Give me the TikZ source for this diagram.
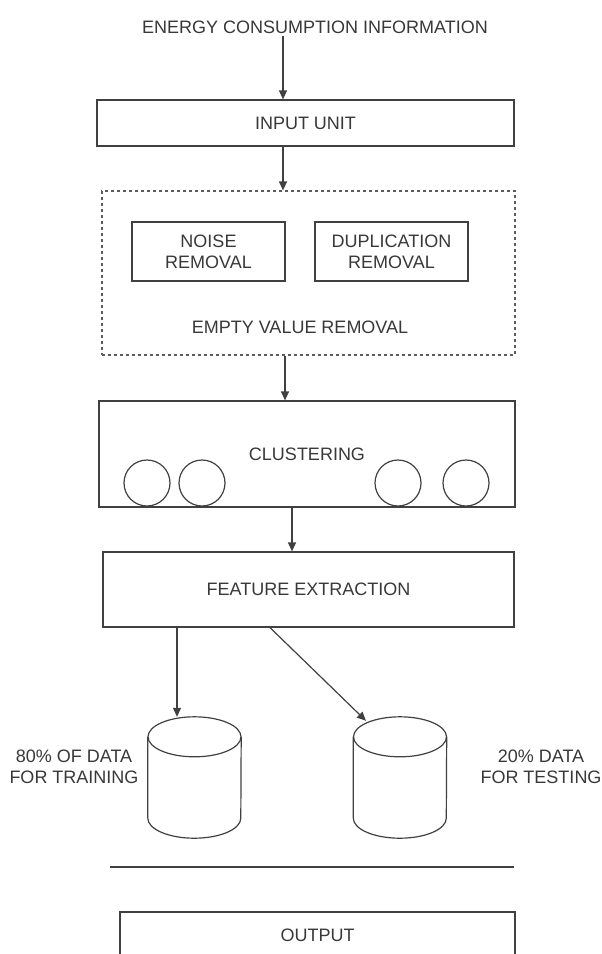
\documentclass[tikz,border=0pt]{standalone}
\usepackage{fontspec}
\setmainfont{Liberation Sans}
\usetikzlibrary{arrows.meta}
\definecolor{fcline}{rgb}{0.25,0.25,0.25}
\definecolor{fctext}{rgb}{0.22,0.22,0.22}
\tikzstyle{fcbox}=[rectangle, draw=fcline, line width=1.2pt, text=fctext, align=center, inner sep=0pt]
\tikzstyle{fcgroup}=[rectangle, draw=fcline!85, line width=1.2pt, dash pattern=on 3pt off 3pt, inner sep=0pt]
\tikzstyle{fclabel}=[text=fctext, align=center, inner sep=2pt]
\tikzstyle{fcdata}=[rectangle, minimum width=93pt, minimum height=121pt, inner sep=0pt]
\tikzstyle{fcball}=[circle, draw=fcline, line width=1.2pt, minimum size=46pt, inner sep=0pt]
\tikzstyle{fcrule}=[draw=fcline, line width=1.2pt]
\tikzstyle{flow}=[draw=fcline, line width=1.2pt, -{Triangle[length=9pt,width=8pt]}]
\newcommand{\fcbox}[5]{
	\node[fcbox, minimum width=#4, minimum height=#5] (#1) at (#2) {#3};}
\newcommand{\fcball}[2]{
	\node[fcball] (#1) at (#2) {};}
\newcommand{\fcdata}[2]{
	\node[fcdata] (#1) at (#2) {};
	\draw[fcrule] ([yshift=-20pt]#1.north) ellipse [x radius=46.5pt, y radius=20pt];
	\draw[fcrule] ([yshift=-20pt]#1.north west) -- ([yshift=20pt]#1.south west)
		arc [start angle=180, end angle=360, x radius=46.5pt, y radius=20pt]
		-- ([yshift=-20pt]#1.north east);}

\begin{document}
\begin{tikzpicture}[x=1pt, y=-1pt, font=\fontsize{18}{21}\selectfont]
	\clip (0,0) rectangle (602,954);
	\node[fclabel] (title) at (315,27) {ENERGY CONSUMPTION INFORMATION};
	\fcbox{inp}{305.5,123}{INPUT UNIT}{417pt}{46pt}
	
	\node[fcgroup, minimum width=413pt, minimum height=164pt] (clean) at (308.5,273) {};
	\fcbox{noise}{208.5,251.5}{NOISE\\REMOVAL}{153pt}{59pt}
	\fcbox{dup}{391.5,251.5}{DUPLICATION\\REMOVAL}{153pt}{59pt}
	\node[fclabel] (empty) at (300,327) {EMPTY VALUE REMOVAL};
	
	\fcbox{clus}{307,454}{CLUSTERING}{416pt}{106pt}
	\fcball{c1}{147,483}
	\fcball{c2}{202,483}
	\fcball{c3}{398,483}
	\fcball{c4}{466,483}
	
	\fcbox{feat}{308.5,589.5}{FEATURE EXTRACTION}{411pt}{75pt}
	
	\fcdata{train}{194.5,777.5}
	\fcdata{test}{400,777.5}
	\node[fclabel] (trainlbl) at (74,767) {80\% OF DATA\\FOR TRAINING};
	\node[fclabel] (testlbl) at (541,767) {20\% DATA\\FOR TESTING};
	
	\coordinate (sepL) at (110,867);
	\coordinate (sepR) at (514,867);
	\fcbox{out}{317.5,935}{OUTPUT}{395pt}{46pt}
	
	\path ([xshift=-32pt]title.south) edge[flow] ([xshift=-22.5pt]inp.north);
	\path ([xshift=-22.5pt]inp.south) edge[flow] ([xshift=-25.5pt]clean.north);
	\path ([xshift=-23.5pt]clean.south) edge[flow] ([xshift=-22pt]clus.north);
	\path ([xshift=-15pt]clus.south) edge[flow] ([xshift=-16.5pt]feat.north);
	\path ([xshift=-131.5pt]feat.south) edge[flow] ([xshift=-17.5pt]train.north);
	\path ([xshift=-38.5pt]feat.south) edge[flow] ([xshift=-34pt,yshift=-4pt]test.north);
	\draw[fcrule] (sepL) -- (sepR);
\end{tikzpicture}
\end{document}
